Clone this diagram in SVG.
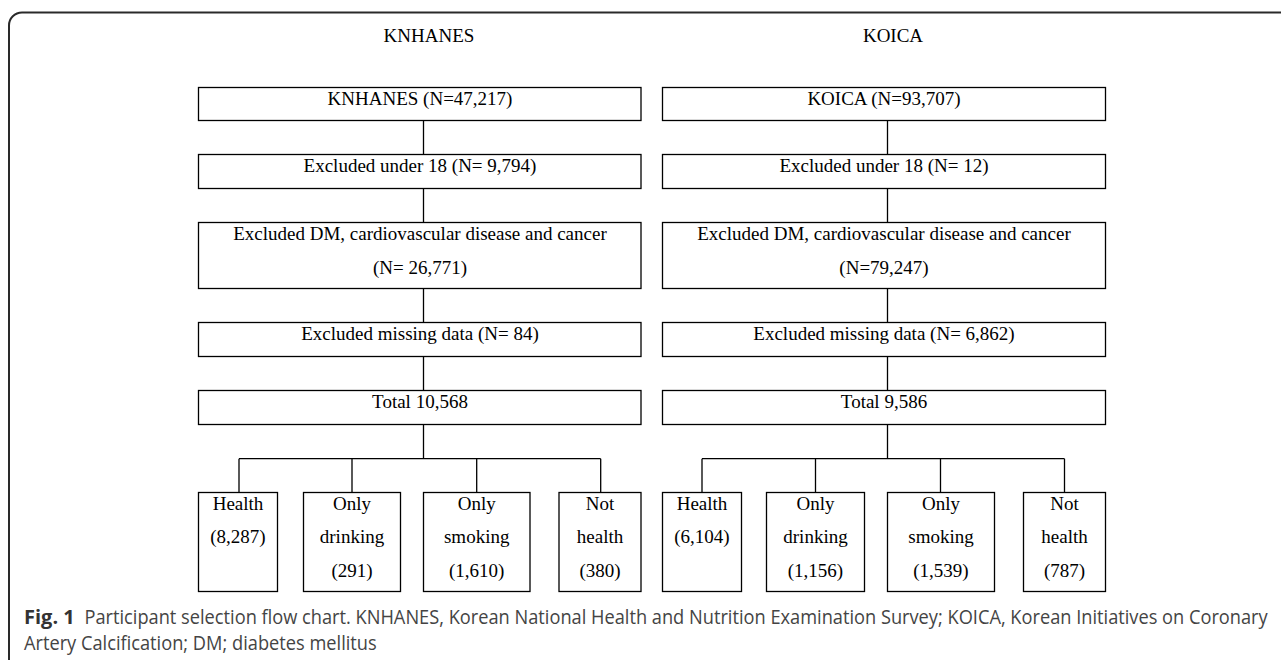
<svg xmlns="http://www.w3.org/2000/svg" width="1281" height="660" viewBox="0 0 1281 660">
<style>
.box{fill:#fff;stroke:#000;stroke-width:1.3}
.ln{stroke:#000;stroke-width:1.3;fill:none}
.t{font-family:"Liberation Serif","Times New Roman",serif;font-size:19px;fill:#000;text-anchor:middle}
.cap{font-family:"Open Sans","Noto Sans",sans-serif;font-size:20px;fill:#444}
.capb{font-family:"Open Sans","Noto Sans",sans-serif;font-size:20px;font-weight:bold;fill:#333}
</style>
<rect width="1281" height="660" fill="#fff"/>
<rect x="9" y="12.5" width="1320" height="700" rx="13" ry="13" fill="none" stroke="#2a2a2a" stroke-width="2"/>
<text class="t" x="429" y="41.7">KNHANES</text>
<text class="t" x="893" y="41.7">KOICA</text>
<g id="connectors">
<path class="ln" d="M423.5 120.5V154.5M423.5 188.5V222.5M423.5 288.5V322.5M423.5 356.5V390.5M423.5 424.5V458.7"/>
<path class="ln" d="M239 458.7H600.7M239 458.7V492.5M352 458.7V492.5M476.7 458.7V492.5M600.7 458.7V492.5"/>
<path class="ln" d="M887.5 120.5V154.5M887.5 188.5V222.5M887.5 288.5V322.5M887.5 356.5V390.5M887.5 424.5V458.7"/>
<path class="ln" d="M702 458.7H1064.5M702 458.7V492.5M815.5 458.7V492.5M940.5 458.7V492.5M1064.5 458.7V492.5"/>
</g>
<g id="k1"><rect class="box" x="198.5" y="87.5" width="442.5" height="33"/><text class="t" x="420" y="105">KNHANES (N=47,217)</text></g>
<g id="k2"><rect class="box" x="198.5" y="154.5" width="442.5" height="34"/><text class="t" x="420" y="172.3">Excluded under 18 (N= 9,794)</text></g>
<g id="k3"><rect class="box" x="198.5" y="222.5" width="442.5" height="66"/><text class="t" x="420" y="240">Excluded DM, cardiovascular disease and cancer</text><text class="t" x="420" y="274">(N= 26,771)</text></g>
<g id="k4"><rect class="box" x="198.5" y="322.5" width="442.5" height="34"/><text class="t" x="420" y="340">Excluded missing data (N= 84)</text></g>
<g id="k5"><rect class="box" x="198.5" y="390.5" width="442.5" height="34"/><text class="t" x="420" y="407.5">Total 10,568</text></g>
<g id="k6"><rect class="box" x="198.5" y="492.5" width="79" height="99"/><text class="t" x="238" y="509.5">Health</text><text class="t" x="238" y="543">(8,287)</text></g>
<g id="k7"><rect class="box" x="303.5" y="492.5" width="97" height="99"/><text class="t" x="352" y="509.5">Only</text><text class="t" x="352" y="543">drinking</text><text class="t" x="352" y="576.5">(291)</text></g>
<g id="k8"><rect class="box" x="423.5" y="492.5" width="106.5" height="99"/><text class="t" x="476.7" y="509.5">Only</text><text class="t" x="476.7" y="543">smoking</text><text class="t" x="476.7" y="576.5">(1,610)</text></g>
<g id="k9"><rect class="box" x="559" y="492.5" width="82" height="99"/><text class="t" x="600" y="509.5">Not</text><text class="t" x="600" y="543">health</text><text class="t" x="600" y="576.5">(380)</text></g>
<g id="c1"><rect class="box" x="662.5" y="87.5" width="443" height="33"/><text class="t" x="884" y="105">KOICA (N=93,707)</text></g>
<g id="c2"><rect class="box" x="662.5" y="154.5" width="443" height="34"/><text class="t" x="884" y="172.3">Excluded under 18 (N= 12)</text></g>
<g id="c3"><rect class="box" x="662.5" y="222.5" width="443" height="66"/><text class="t" x="884" y="240">Excluded DM, cardiovascular disease and cancer</text><text class="t" x="884" y="274">(N=79,247)</text></g>
<g id="c4"><rect class="box" x="662.5" y="322.5" width="443" height="34"/><text class="t" x="884" y="340">Excluded missing data (N= 6,862)</text></g>
<g id="c5"><rect class="box" x="662.5" y="390.5" width="443" height="34"/><text class="t" x="884" y="407.5">Total 9,586</text></g>
<g id="c6"><rect class="box" x="662.5" y="492.5" width="79" height="99"/><text class="t" x="702" y="509.5">Health</text><text class="t" x="702" y="543">(6,104)</text></g>
<g id="c7"><rect class="box" x="766.5" y="492.5" width="98" height="99"/><text class="t" x="815.5" y="509.5">Only</text><text class="t" x="815.5" y="543">drinking</text><text class="t" x="815.5" y="576.5">(1,156)</text></g>
<g id="c8"><rect class="box" x="887.5" y="492.5" width="107" height="99"/><text class="t" x="941" y="509.5">Only</text><text class="t" x="941" y="543">smoking</text><text class="t" x="941" y="576.5">(1,539)</text></g>
<g id="c9"><rect class="box" x="1023.5" y="492.5" width="82" height="99"/><text class="t" x="1064.5" y="509.5">Not</text><text class="t" x="1064.5" y="543">health</text><text class="t" x="1064.5" y="576.5">(787)</text></g>
<text class="capb" x="24" y="624">Fig. 1</text>
<g transform="scale(0.85,1)">
<text class="cap" x="99.4" y="624" textLength="1392" lengthAdjust="spacingAndGlyphs">Participant selection flow chart. KNHANES, Korean National Health and Nutrition Examination Survey; KOICA, Korean Initiatives on Coronary</text>
<text class="cap" x="28.2" y="650" textLength="415" lengthAdjust="spacingAndGlyphs">Artery Calcification; DM; diabetes mellitus</text>
</g>
</svg>
